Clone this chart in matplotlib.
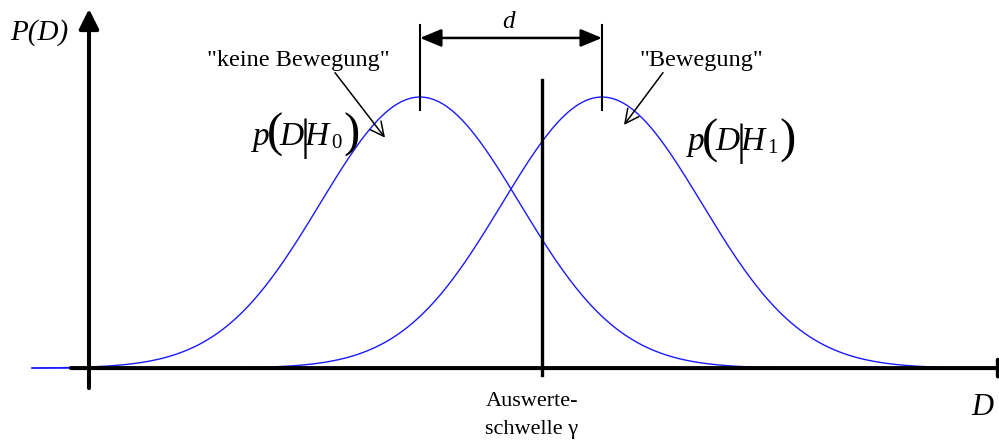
import numpy as np
import matplotlib.pyplot as plt

plt.rcParams['font.family'] = ['Liberation Serif', 'DejaVu Serif']
plt.rcParams['mathtext.fontset'] = 'stix'

# distribution parameters (D in units of sigma)
mu_h0 = 3.31      # "keine Bewegung"
mu_h1 = 5.13      # "Bewegung"
sigma = 1.0
gamma = 4.53      # Auswerteschwelle
d_start, d_end = -0.57, 8.53

labels_hyp = ['"keine Bewegung"', '"Bewegung"']
subscripts = ['0', '1']


def gauss(x, mu, s):
    return np.exp(-0.5 * ((x - mu) / s) ** 2) / (s * np.sqrt(2 * np.pi))


def formula(ax, x, y, sub):
    # p(D|H_x) with tall brackets, built piece by piece (offsets in px)
    pieces = [('p', 24, 0, 0, 'italic'), ('(', 35, 14, -2, 'normal'),
              ('D', 24, 27, 0, 'italic'), ('|', 32, 48, -5, 'normal'),
              ('H', 24, 52, 0, 'italic'), (sub, 15, 79, -3, 'normal'),
              (')', 35, 91, -2, 'normal')]
    for s, size, dx, dy, style in pieces:
        ax.annotate(s, xy=(x, y), xytext=(dx * 0.72, dy * 0.72),
                    textcoords='offset points', fontsize=size, style=style,
                    ha='left', va='baseline')


peak = gauss(mu_h0, mu_h0, sigma)
D = np.linspace(d_start, d_end, 600)

fig = plt.figure(figsize=(9.99, 4.41), dpi=100)
ax = fig.add_axes([0, 0, 1, 1])
ax.set_xlim(-0.89, 9.10)
ax.set_ylim(-0.269 * peak, 1.358 * peak)
ax.axis('off')

# curves
for mu in (mu_h0, mu_h1):
    ax.plot(D, gauss(D, mu, sigma), color='#1a1aff', lw=1.0, zorder=2)

# axes with arrows
head = '-|>,head_length=0.6,head_width=0.3'
ax.annotate('', xy=(0, 1.325 * peak), xytext=(0, -0.074 * peak),
            arrowprops=dict(arrowstyle=head, lw=2.9, color='k', mutation_scale=20,
                            shrinkA=0, shrinkB=0), zorder=3)
ax.annotate('', xy=(9.30, 0), xytext=(-0.18, 0), annotation_clip=False,
            arrowprops=dict(arrowstyle=head, lw=2.9, color='k', mutation_scale=20,
                            shrinkA=0, shrinkB=0), zorder=3)

# threshold
ax.plot([gamma, gamma], [-0.026 * peak, 1.063 * peak], color='k', lw=2.4, zorder=3)

# mean markers and distance d
for mu in (mu_h0, mu_h1):
    ax.plot([mu, mu], [0.952 * peak, 1.266 * peak], color='k', lw=1.5, zorder=3)
ax.annotate('', xy=(mu_h1, 1.218 * peak), xytext=(mu_h0, 1.218 * peak),
            arrowprops=dict(arrowstyle='<|-|>,head_length=0.65,head_width=0.27',
                            lw=1.8, color='k', mutation_scale=20,
                            shrinkA=0, shrinkB=0))
ax.text(4.19, 1.2546 * peak, 'd', style='italic', fontsize=18,
        ha='center', va='baseline')

# hypothesis labels with arrows
small_arrow = dict(arrowstyle='->,head_length=0.5,head_width=0.25',
                   lw=1.1, color='k', mutation_scale=20, shrinkA=0, shrinkB=0)
ax.text(2.09, 1.114 * peak, labels_hyp[0], fontsize=17.5, ha='center', va='baseline')
ax.annotate('', xy=(2.96, 0.85 * peak), xytext=(2.46, 1.09 * peak),
            arrowprops=small_arrow)
ax.text(6.12, 1.114 * peak, labels_hyp[1], fontsize=17.5, ha='center', va='baseline')
ax.annotate('', xy=(5.35, 0.897 * peak), xytext=(5.74, 1.09 * peak),
            arrowprops=small_arrow)

formula(ax, 1.637, 0.823 * peak, subscripts[0])
formula(ax, 5.993, 0.804 * peak, subscripts[1])

# axis labels
ax.text(-0.50, 1.210 * peak, 'P(D)', style='italic', fontsize=21,
        ha='center', va='baseline')
ax.text(8.935, -0.173 * peak, 'D', style='italic', fontsize=22,
        ha='center', va='baseline')
ax.text(gamma - 0.10, -0.140 * peak, 'Auswerte-', fontsize=16,
        ha='center', va='baseline')
ax.text(gamma - 0.10, -0.2435 * peak, 'schwelle γ', fontsize=16,
        ha='center', va='baseline')

fig.savefig('out.png', dpi=100)
